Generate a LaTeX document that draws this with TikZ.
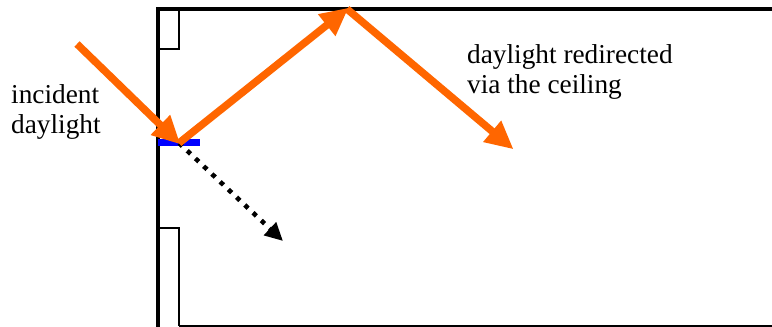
\documentclass[tikz,border=0pt]{standalone}
\usepackage{fontspec}
\setmainfont{Liberation Serif}
\usetikzlibrary{arrows.meta}
\definecolor{rayorange}{RGB}{255,102,0}
\definecolor{mirrorblue}{RGB}{0,0,255}
\tikzset{
  wall/.style={line width=3.6pt, line cap=rect},
  frame/.style={line width=2pt},
  ray/.style={rayorange, line width=7.5pt, -{Triangle[length=28pt,width=26pt]}, shorten >=-2pt},
  transmitted/.style={black, line width=4.6pt, dash pattern=on 4.6pt off 6.7pt, -{Triangle[length=18pt,width=17pt]}},
  label/.style={font=\fontsize{27.3}{30}\selectfont, align=left, inner sep=0pt, anchor=north west}
}
\begin{document}
\begin{tikzpicture}[x=1pt,y=1pt]
\useasboundingbox (0,0) rectangle (772,327);
% room
\coordinate (wallbot) at (158,0);
\coordinate (walltop) at (158,318);
\coordinate (ceilend) at (775,318);
\draw[frame] (158,318) rectangle (179,278);
\draw[frame] (179,1) -- (179,99) -- (158,99);
\draw[frame] (179,1) -- (775,1);
\draw[wall] (wallbot) -- (walltop) -- (ceilend);
% mirror
\coordinate (m1) at (158,184.5);
\coordinate (m2) at (200,184.5);
\draw[mirrorblue, line width=7.5pt] (m1) -- (m2);
% rays
\coordinate (src) at (77,283);
\coordinate (hit) at (179,184);
\coordinate (ceil) at (347,318);
\coordinate (room) at (512,179);
\coordinate (trans) at (283,86);
\draw[transmitted] (hit) -- (trans);
\draw[ray] (src) -- (hit);
\draw[ray] (hit) -- (ceil);
\draw[ray] (ceil) -- (room);
% labels
\node[label] (incident) at (11,243) {incident\\daylight};
\node[label] (redirected) at (467,283) {daylight redirected\\via the ceiling};
\end{tikzpicture}
\end{document}
